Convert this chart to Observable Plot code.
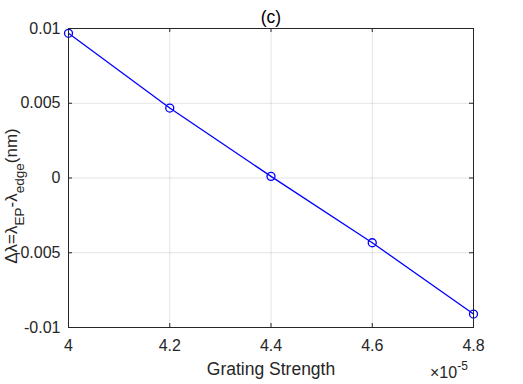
<!DOCTYPE html>
<html>
<head>
<meta charset="utf-8">
<script src="https://cdn.jsdelivr.net/npm/d3@7"></script>
<script src="https://cdn.jsdelivr.net/npm/@observablehq/plot@0.6"></script>
<style>
  html, body { margin: 0; padding: 0; background: #fff; }
  #chart svg { display: block; }
</style>
</head>
<body>
<div id="chart"></div>
<script>
// Data (x in units of 1e-5)
const gratingStrength = [4.0, 4.2, 4.4, 4.6, 4.8];
const deltaLambda = [0.00968, 0.00468, 0.00011, -0.00433, -0.0091];
const xTicks = [4.0, 4.2, 4.4, 4.6, 4.8];
const xTickLabels = ["4", "4.2", "4.4", "4.6", "4.8"];
const yTicks = [-0.01, -0.005, 0, 0.005, 0.01];
const yTickLabels = ["-0.01", "-0.005", "0", "0.005", "0.01"];
const titleText = "(c)";
const xLabelText = "Grating Strength";

const data = gratingStrength.map((x, i) => ({x, y: deltaLambda[i]}));

const W = 523, H = 384;
const mL = 68, mR = 50, mT = 28, mB = 57;
const innerW = W - mL - mR, innerH = H - mT - mB;
const axisColor = "#262626";
const font = "'Liberation Sans', Arial, Helvetica, sans-serif";

const svg = Plot.plot({
  width: W, height: H,
  marginLeft: mL, marginRight: mR, marginTop: mT, marginBottom: mB,
  style: {fontFamily: font, fontSize: "16px", color: axisColor, background: "#fff", overflow: "visible"},
  x: {domain: [4.0, 4.8]},
  y: {domain: [-0.01, 0.01]},
  marks: [
    Plot.gridX(xTicks, {stroke: axisColor, strokeOpacity: 0.13}),
    Plot.gridY(yTicks, {stroke: axisColor, strokeOpacity: 0.13}),
    Plot.tickX(xTicks, {x: d => d, insetTop: innerH - 4, stroke: axisColor}),
    Plot.tickX(xTicks, {x: d => d, insetBottom: innerH - 4, stroke: axisColor}),
    Plot.tickY(yTicks, {y: d => d, insetRight: innerW - 4, stroke: axisColor}),
    Plot.tickY(yTicks, {y: d => d, insetLeft: innerW - 4, stroke: axisColor}),
    Plot.line(data, {x: "x", y: "y", stroke: "#0000ff", strokeWidth: 1.3}),
    Plot.dot(data, {x: "x", y: "y", r: 4, stroke: "#0000ff", fill: "none", strokeWidth: 1.3}),
    Plot.axisX(xTicks, {tickSize: 0, tickPadding: 12, fontSize: 16, tickFormat: d => xTickLabels[xTicks.indexOf(d)], label: null, fill: axisColor}),
    Plot.axisY(yTicks, {tickSize: 0, tickPadding: 8, fontSize: 16, tickFormat: d => yTickLabels[yTicks.indexOf(d)], label: null, fill: axisColor}),
    Plot.frame({stroke: axisColor, strokeWidth: 1}),
    Plot.text([titleText], {frameAnchor: "top", lineAnchor: "middle", dy: -11, fontSize: 17.5, fill: "#000"}),
    Plot.text([xLabelText], {frameAnchor: "bottom", lineAnchor: "middle", dy: 42, fontSize: 17.5, fill: axisColor})
  ]
});

// Rich text: y-axis label with subscripts, and x exponent
const s = d3.select(svg);
const yl = s.append("text")
  .attr("transform", `translate(17,196) rotate(-90)`)
  .attr("text-anchor", "middle")
  .attr("font-family", font)
  .attr("font-size", 17)
  .attr("fill", axisColor);
yl.append("tspan").text("\u0394\u03bb=\u03bb");
yl.append("tspan").attr("font-size", 13.5).attr("dy", 6.5).text("EP");
yl.append("tspan").attr("dy", -6.5).text("-\u03bb");
yl.append("tspan").attr("font-size", 13.5).attr("dy", 6.5).text("edge");
yl.append("tspan").attr("dy", -6.5).text("(nm)");

const ex = s.append("text")
  .attr("x", 430).attr("y", 378)
  .attr("text-anchor", "start")
  .attr("font-family", font)
  .attr("font-size", 16)
  .attr("fill", axisColor);
ex.append("tspan").text("\u00d710");
ex.append("tspan").attr("font-size", 12).attr("dy", -8).text("-5");

document.getElementById("chart").appendChild(svg);
</script>
</body>
</html>
